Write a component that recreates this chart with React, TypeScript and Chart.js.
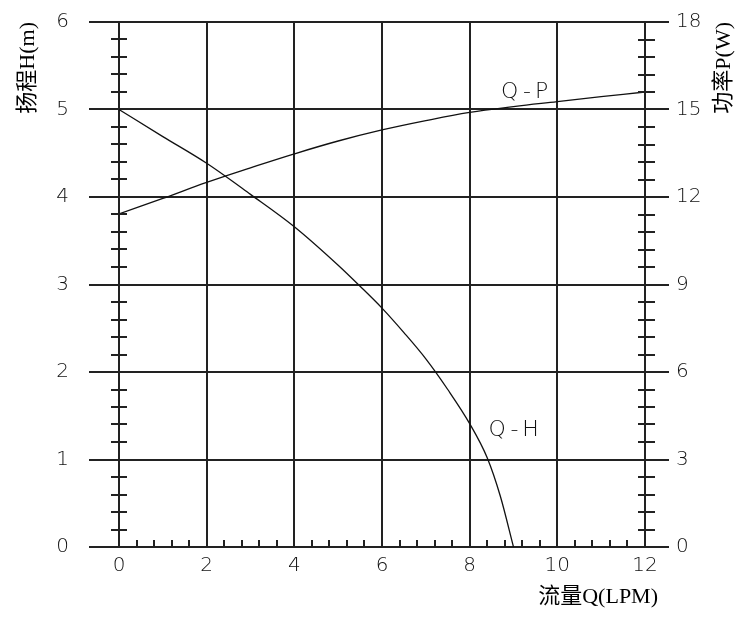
import React, { useEffect, useRef } from 'react';
import { Chart, registerables } from 'chart.js';

Chart.register(...registerables);

// Q-H curve (flow in LPM, head in m)
const flowQH = [0, 1, 2, 3, 4, 5, 5.5, 6, 6.5, 7, 7.5, 8, 8.4, 8.7, 9.0];
const headH = [5.0, 4.69, 4.385, 4.03, 3.66, 3.22, 2.98, 2.73, 2.45, 2.15, 1.8, 1.41, 1.02, 0.58, 0];

// Q-P curve (flow in LPM, power in W)
const flowQP = [0, 1, 2, 3, 4, 5, 6, 7, 8, 9, 10, 11, 12];
const powerP = [11.42, 11.95, 12.5, 13.0, 13.48, 13.92, 14.3, 14.62, 14.9, 15.1, 15.27, 15.44, 15.6];

const xTicks = [0, 2, 4, 6, 8, 10, 12];
const hTicks = [0, 1, 2, 3, 4, 5, 6];
const pTicks = [0, 3, 6, 9, 12, 15, 18];

const xTitle = '流量Q(LPM)';
const yTitle = '扬程H(m)';
const y2Title = '功率P(W)';
const labelQP = 'Q-P';
const labelQH = 'Q-H';

const LINE = '#222';
const TICK_FONT = { family: '"DejaVu Sans", sans-serif', size: 20, weight: 200 as any };

const decoPlugin = {
  id: 'deco',
  afterDraw(chart: any) {
    const ctx = chart.ctx as CanvasRenderingContext2D;
    const { left, right, bottom } = chart.chartArea;
    const xs = chart.scales.x;
    const ys = chart.scales.y;
    const y2 = chart.scales.y2;
    ctx.save();
    ctx.strokeStyle = LINE;
    ctx.lineWidth = 2;
    ctx.beginPath();
    for (let i = 1; i < 30; i++) {
      if (i % 5 === 0) continue;
      const py = Math.round(ys.getPixelForValue(i * 0.2));
      ctx.moveTo(left - 8, py);
      ctx.lineTo(left + 8, py);
    }
    for (let i = 1; i < 30; i++) {
      if (i % 5 === 0) continue;
      const py = Math.round(y2.getPixelForValue(i * 0.6));
      ctx.moveTo(right - 7, py);
      ctx.lineTo(right + 10, py);
    }
    for (let i = 1; i < 30; i++) {
      if (i % 5 === 0) continue;
      const px = Math.round(xs.getPixelForValue(i * 0.4));
      ctx.moveTo(px, bottom);
      ctx.lineTo(px, bottom - 7);
    }
    ctx.stroke();

    ctx.fillStyle = '#111';
    ctx.font = '200 22px "DejaVu Sans", sans-serif';
    (ctx as any).letterSpacing = '4px';
    ctx.textAlign = 'center';
    ctx.textBaseline = 'middle';
    ctx.fillText(labelQP, xs.getPixelForValue(9.3), ys.getPixelForValue(5.2));
    ctx.fillText(labelQH, xs.getPixelForValue(9.05), ys.getPixelForValue(1.33));
    (ctx as any).letterSpacing = '0px';

    ctx.fillStyle = '#000';
    ctx.font = '22px "Liberation Serif", "Noto Sans CJK SC", serif';
    ctx.save();
    ctx.translate(28, 22);
    ctx.rotate(-Math.PI / 2);
    ctx.textAlign = 'right';
    ctx.textBaseline = 'middle';
    ctx.fillText(yTitle, 0, 0);
    ctx.restore();

    ctx.save();
    ctx.translate(724, 22);
    ctx.rotate(-Math.PI / 2);
    ctx.textAlign = 'right';
    ctx.textBaseline = 'middle';
    ctx.fillText(y2Title, 0, 0);
    ctx.restore();

    ctx.textAlign = 'right';
    ctx.textBaseline = 'middle';
    ctx.fillText(xTitle, 658, 597);
    ctx.restore();
  },
};

export default function App() {
  const ref = useRef<HTMLCanvasElement>(null);
  useEffect(() => {
    if (!ref.current) return;
    const chart = new Chart(ref.current, {
      type: 'line',
      data: {
        datasets: [
          {
            label: labelQH,
            data: flowQH.map((q, i) => ({ x: q, y: headH[i] })),
            yAxisID: 'y',
            borderColor: '#111',
            borderWidth: 1.3,
            pointRadius: 0,
            cubicInterpolationMode: 'monotone',
            fill: false,
          },
          {
            label: labelQP,
            data: flowQP.map((q, i) => ({ x: q, y: powerP[i] })),
            yAxisID: 'y2',
            borderColor: '#111',
            borderWidth: 1.3,
            pointRadius: 0,
            tension: 0.4,
            fill: false,
          },
        ],
      },
      options: {
        responsive: false,
        animation: false,
        layout: { padding: { top: 22, left: 0, right: 0, bottom: 0 } },
        plugins: { legend: { display: false }, tooltip: { enabled: false } },
        scales: {
          x: {
            type: 'linear',
            position: 'bottom',
            min: 0,
            max: 12,
            afterBuildTicks: (s: any) => { s.ticks = xTicks.map((v) => ({ value: v })); },
            afterFit: (s: any) => { s.height = 75; s.paddingLeft = 0; s.paddingRight = 0; },
            ticks: { font: TICK_FONT, color: '#111', padding: 7, maxRotation: 0 },
            grid: { color: LINE, lineWidth: 2, drawTicks: false },
            border: { display: true, color: LINE, width: 2 },
          },
          y: {
            type: 'linear',
            position: 'left',
            min: 0,
            max: 6,
            afterBuildTicks: (s: any) => { s.ticks = hTicks.map((v) => ({ value: v })); },
            afterFit: (s: any) => { s.width = 119; s.paddingTop = 0; s.paddingBottom = 0; },
            ticks: { font: TICK_FONT, color: '#111', padding: 20 },
            grid: { color: LINE, lineWidth: 2, drawTicks: true, tickLength: 30 },
            border: { display: true, color: LINE, width: 2 },
          },
          y2: {
            type: 'linear',
            position: 'right',
            min: 0,
            max: 18,
            afterBuildTicks: (s: any) => { s.ticks = pTicks.map((v) => ({ value: v })); },
            afterFit: (s: any) => { s.width = 105; s.paddingTop = 0; s.paddingBottom = 0; },
            ticks: { font: TICK_FONT, color: '#111', padding: 7 },
            grid: { color: LINE, lineWidth: 2, drawOnChartArea: false, drawTicks: true, tickLength: 24 },
            border: { display: true, color: LINE, width: 2 },
          },
        },
      },
      plugins: [decoPlugin],
    });
    return () => chart.destroy();
  }, []);
  return (
    <div style={{ position: 'fixed', left: 0, top: 0, width: 750, height: 622, background: '#fff' }}>
      <canvas ref={ref} width={750} height={622} style={{ display: 'block' }} />
    </div>
  );
}
